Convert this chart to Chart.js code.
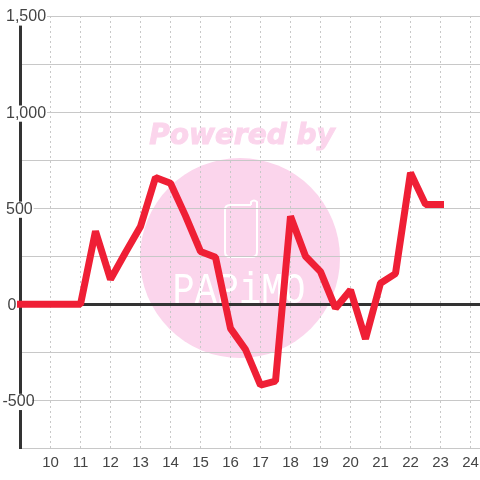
<!DOCTYPE html>
<html>
<head>
<meta charset="utf-8">
<style>html,body{margin:0;padding:0;background:#fff}#w{width:480px;height:480px;position:relative}</style>
<script src="https://cdn.jsdelivr.net/npm/chart.js@4"></script>
</head>
<body>
<div id="w"><canvas id="c" width="480" height="480"></canvas></div>
<script>
const hours = [9,9.5,10,10.5,11,11.5,12,12.5,13,13.5,14,14.5,15,15.5,16,16.5,17,17.5,18,18.5,19,19.5,20,20.5,21,21.5,22,22.5,23];
const values = [0,0,0,0,0,380,130,270,405,660,630,460,275,245,-125,-235,-420,-400,458,250,170,-20,75,-180,110,160,685,520,520];
const xTicks = [10,11,12,13,14,15,16,17,18,19,20,21,22,23,24];
const yTicks = [-750,-500,-250,0,250,500,750,1000,1250,1500];
const yLabelled = [-500,0,500,1000,1500];
const watermarkTop = 'Powered by';
const watermarkBottom = 'PAPiMO';

const watermark = {
  id:'watermark',
  beforeDraw(chart){
    const c = chart.ctx;
    c.save();
    c.fillStyle='#fff'; c.fillRect(0,0,480,480);
    c.fillStyle='#fbd5ec';
    c.beginPath(); c.arc(240,258,100,0,Math.PI*2); c.fill();
    c.font='italic bold 28px "DejaVu Sans"';
    c.textAlign='center'; c.textBaseline='alphabetic';
    c.strokeStyle='#fbd5ec'; c.lineWidth=1;
    c.fillText(watermarkTop,242,144);
    c.strokeText(watermarkTop,242,144);
    c.strokeStyle='#fff'; c.lineWidth=2;
    c.lineJoin='round';
    c.beginPath();
    c.moveTo(251,205); c.lineTo(230,205); c.quadraticCurveTo(225,205,225,210);
    c.lineTo(225,252); c.quadraticCurveTo(225,257,230,257);
    c.lineTo(252,257); c.quadraticCurveTo(257,257,257,252);
    c.lineTo(257,202); c.quadraticCurveTo(254,199,251,202); c.lineTo(251,205);
    c.stroke();
    c.fillStyle='#fff';
    c.translate(239,303); c.scale(0.84,1);
    c.font='44px "Liberation Mono"';
    c.fillText(watermarkBottom,0,0);
    c.restore();
  }
};

const shiftLabels = {
  id:'shiftLabels',
  afterLayout(chart){
    const s = chart.scales.y;
    const orig = s.getLabelItems.bind(s);
    s.getLabelItems = function(area){
      const items = orig(area);
      if(!items._adjusted){
        items._adjusted = true;
        items.forEach(it=>{
          const l = String(it.label);
          it.options.translation[1]+=1;
          if(it.options.backdrop) it.options.backdrop.top+=1;
          if(l.startsWith('-')){ it.options.translation[0]-=3.5; if(it.options.backdrop) it.options.backdrop.left-=3.5; }
          if(l==='0'){ it.options.translation[0]+=1.5; if(it.options.backdrop) it.options.backdrop.left+=1.5; }
        });
      }
      return items;
    };
  }
};

new Chart(document.getElementById('c'),{
  type:'line',
  data:{labels:hours,datasets:[{
    data:hours.map((h,i)=>({x:h,y:values[i]})),
    borderColor:'#ef1f35',borderWidth:7,borderCapStyle:'square',borderJoinStyle:'bevel',
    pointRadius:0,tension:0,fill:false,clip:false
  }]},
  plugins:[watermark,shiftLabels],
  options:{
    responsive:false,animation:false,
    layout:{padding:{top:16,left:0,right:0,bottom:0},autoPadding:false},
    plugins:{legend:{display:false},tooltip:{enabled:false},title:{display:false}},
    scales:{
      x:{
        type:'linear',min:9,max:24.317,
        afterBuildTicks(s){s.ticks=xTicks.map(v=>({value:v}));},
        afterFit(s){s.height=31.5;s.paddingLeft=0;s.paddingRight=0;},
        grid:{color:'#c8c8c8',lineWidth:1,drawTicks:false},
        border:{display:false,dash:[2,3]},
        ticks:{color:'#444',font:{family:'"Liberation Sans"',size:15},padding:5,maxRotation:0,autoSkip:false,callback:v=>String(v)}
      },
      y:{
        type:'linear',min:-750,max:1500,
        afterBuildTicks(s){s.ticks=yTicks.map(v=>({value:v}));},
        afterFit(s){s.width=20.5;s.paddingTop=0;s.paddingBottom=0;},
        grid:{
          color:c=>c.tick&&c.tick.value===0?'#333':'#c8c8c8',
          lineWidth:c=>c.tick&&c.tick.value===0?3:1,
          drawTicks:false
        },
        border:{display:true,color:'#333',width:3},
        ticks:{
          color:'#444',font:{family:'"Liberation Sans"',size:16},
          mirror:true,padding:-14.5,autoSkip:false,
          showLabelBackdrop:true,backdropColor:'#fff',backdropPadding:{left:1,right:1,top:-1,bottom:-2},
          callback:v=>yLabelled.includes(v)?v.toLocaleString('en-US'):''
        }
      }
    }
  }
});
</script>
</body>
</html>
